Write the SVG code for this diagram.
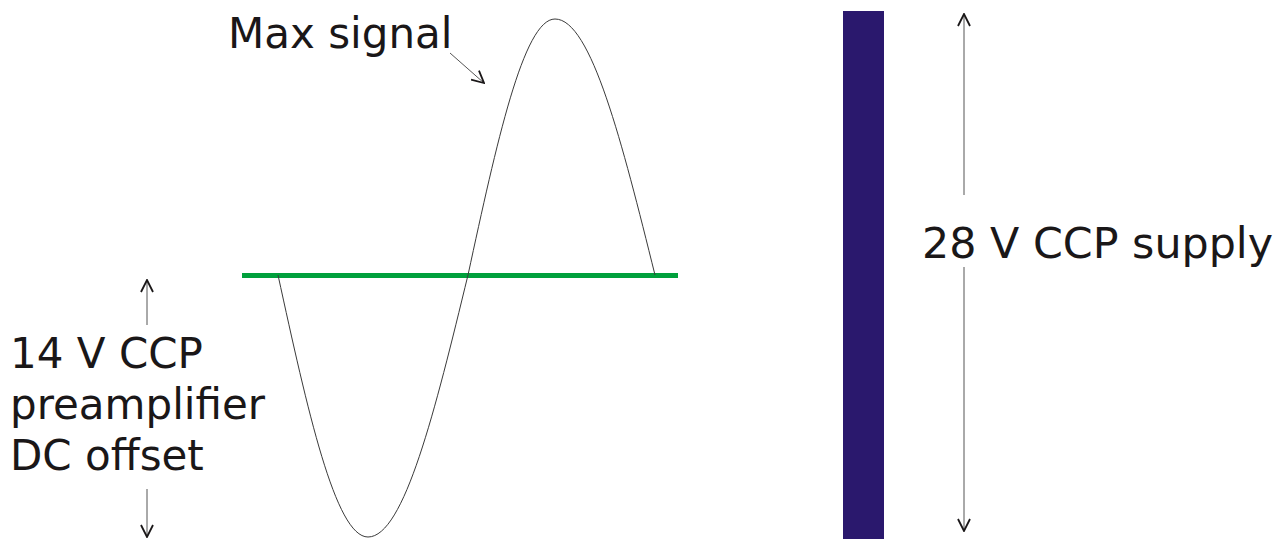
<svg xmlns="http://www.w3.org/2000/svg" width="1285" height="539" viewBox="0 0 1285 539">
<style>
.lbl{font-family:"DejaVu Sans",Verdana,sans-serif;font-size:42px;fill:#1a1718}
.dim{stroke:#555;stroke-width:1;fill:none}
</style>
<defs>
<marker id="ah" viewBox="0 0 14 14" refX="13" refY="7" markerWidth="14" markerHeight="14" markerUnits="userSpaceOnUse" orient="auto">
<path d="M1,1 L13,7 L1,13" fill="none" stroke="#1a1718" stroke-width="1.8"/>
</marker>
</defs>
<rect width="1285" height="539" fill="#ffffff"/>
<g id="supply-bar">
<rect x="843" y="11" width="41" height="528" fill="#2a186d"/>
</g>
<g id="dc-level">
<rect x="242" y="273" width="436" height="5" fill="#00a03c"/>
</g>
<g id="signal">
<path d="M278,275 C307.3,409.2 335.4,537 368,537 C404.2,537 435.4,409.2 468,275 C496.4,143.9 523.5,19 555,19 C591.2,19 622.4,143.9 655,275" fill="none" stroke="#3a3a3a" stroke-width="1"/>
</g>
<g id="labels">
<text class="lbl" x="228" y="48">Max signal</text>
<text class="lbl" x="922" y="258" style="font-size:42.8px">28 V CCP supply</text>
<text class="lbl" x="10" y="368">14 V CCP</text>
<text class="lbl" x="10" y="419">preamplifier</text>
<text class="lbl" x="10" y="470">DC offset</text>
</g>
<g id="connectors">
<line class="dim" x1="450" y1="53" x2="484" y2="83" marker-end="url(#ah)"/>
<line class="dim" x1="147" y1="325" x2="147" y2="280" marker-end="url(#ah)"/>
<line class="dim" x1="147" y1="489" x2="147" y2="537" marker-end="url(#ah)"/>
<line class="dim" x1="964" y1="195" x2="964" y2="14" marker-end="url(#ah)"/>
<line class="dim" x1="964" y1="267" x2="964" y2="531" marker-end="url(#ah)"/>
</g>
</svg>
